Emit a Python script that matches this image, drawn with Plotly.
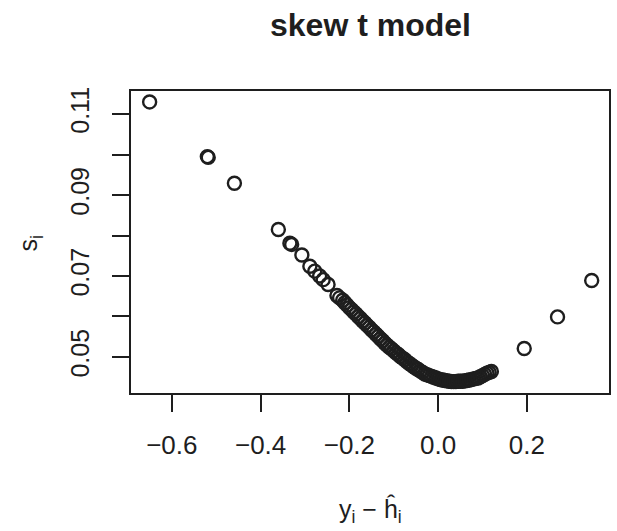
import plotly.graph_objects as go

# scattered points (outliers / sparse region)
resid_sparse = [-0.650, -0.520, -0.518, -0.459, -0.360, -0.334, -0.330, -0.307,
                -0.289, -0.278, -0.267, -0.259, -0.248, -0.228, -0.222,
                0.194, 0.269, 0.346]
s_sparse = [0.1130, 0.0995, 0.0993, 0.0929, 0.0815, 0.0781, 0.0778, 0.0752,
            0.0724, 0.0712, 0.0700, 0.0691, 0.0679, 0.0652, 0.0646,
            0.0521, 0.0599, 0.0689]

# dense band of points
resid_dense = [-0.215, -0.210, -0.205, -0.200, -0.195, -0.190, -0.185, -0.180,
               -0.175, -0.170, -0.165, -0.160, -0.155, -0.150, -0.145, -0.140,
               -0.135, -0.130, -0.125, -0.120, -0.115, -0.110, -0.105, -0.100,
               -0.095, -0.090, -0.085, -0.080, -0.075, -0.070, -0.065, -0.060,
               -0.055, -0.050, -0.045, -0.040, -0.035, -0.030, -0.025, -0.020,
               -0.015, -0.010, -0.005, 0.000, 0.005, 0.010, 0.015, 0.020,
               0.025, 0.030, 0.035, 0.040, 0.045, 0.050, 0.055, 0.060,
               0.065, 0.070, 0.075, 0.080, 0.085, 0.090, 0.095, 0.100,
               0.105, 0.110, 0.115, 0.120]
s_dense = [0.0640, 0.0634, 0.0628, 0.0622, 0.0617, 0.0611, 0.0606, 0.0600,
           0.0595, 0.0589, 0.0584, 0.0578, 0.0573, 0.0567, 0.0562, 0.0556,
           0.0551, 0.0545, 0.0540, 0.0534, 0.0529, 0.0524, 0.0520, 0.0515,
           0.0510, 0.0506, 0.0501, 0.0497, 0.0493, 0.0488, 0.0484, 0.0480,
           0.0476, 0.0472, 0.0469, 0.0465, 0.0462, 0.0458, 0.0456, 0.0454,
           0.0452, 0.0450, 0.0448, 0.0446, 0.0444, 0.0443, 0.0442, 0.0441,
           0.0440, 0.0439, 0.0439, 0.0439, 0.0440, 0.0440, 0.0440, 0.0441,
           0.0442, 0.0443, 0.0444, 0.0446, 0.0447, 0.0448, 0.0451, 0.0454,
           0.0457, 0.0460, 0.0462, 0.0464]

x_ticks = [-0.6, -0.4, -0.2, 0.0, 0.2]
x_ticktext = ["\u22120.6", "\u22120.4", "\u22120.2", "0.0", "0.2"]
y_ticks = [0.05, 0.06, 0.07, 0.08, 0.09, 0.10, 0.11]
y_ticktext = ["0.05", "", "0.07", "", "0.09", "", "0.11"]

title_text = "skew t model"
x_label = "y<sub>i</sub> \u2212 \u0125<sub>i</sub>"
y_label = "s<sub>i</sub>"

ink = "#1e1e1e"
font_family = "Liberation Sans, Arial, sans-serif"

W, H = 617, 531
L, R, T, B = 131, 6, 91, 138
plot_w = W - L - R
plot_h = H - T - B

fig = go.Figure()
fig.add_trace(go.Scatter(
    x=resid_sparse + resid_dense,
    y=s_sparse + s_dense,
    mode="markers",
    marker=dict(symbol="circle-open", size=13, color=ink, line=dict(width=2.4, color=ink)),
    showlegend=False,
    hoverinfo="skip",
))

fig.update_layout(
    width=W, height=H,
    margin=dict(l=L, r=R, t=T, b=B),
    paper_bgcolor="white", plot_bgcolor="white",
    font=dict(family=font_family, color=ink, size=26),
    title=dict(text="<b>" + title_text + "</b>", xref="paper", x=(371.5 - L) / plot_w,
               xanchor="center", yref="container", y=1 - 25 / H, yanchor="middle",
               font=dict(size=32, family=font_family, color=ink)),
)
fig.update_xaxes(
    range=[-0.692, 0.385], tickvals=x_ticks, ticktext=x_ticktext,
    ticks="outside", ticklen=17, tickwidth=2, tickcolor=ink,
    showline=True, linewidth=2, linecolor=ink, mirror=True,
    showgrid=False, zeroline=False, ticklabelstandoff=11,
)
fig.update_yaxes(
    range=[0.0411, 0.1157], tickvals=y_ticks, ticktext=y_ticktext,
    ticks="outside", ticklen=17, tickwidth=2, tickcolor=ink, tickangle=-90,
    showline=True, linewidth=2, linecolor=ink, mirror=True,
    showgrid=False, zeroline=False, ticklabelstandoff=13,
    tickfont=dict(size=25),
)
fig.add_annotation(text=x_label, xref="paper", yref="paper", x=(371 - L) / plot_w,
                   y=-(510 - (H - B)) / plot_h,
                   xanchor="center", yanchor="middle", showarrow=False,
                   font=dict(size=25, family=font_family, color=ink))
fig.add_annotation(text=y_label, xref="paper", yref="paper", x=-(L - 30) / plot_w,
                   y=((H - B) - 243) / plot_h,
                   xanchor="center", yanchor="middle", showarrow=False, textangle=-90,
                   font=dict(size=25, family=font_family, color=ink))

fig.write_html("out.html", config={"displayModeBar": False},
               post_script="document.body.style.margin='0';")
